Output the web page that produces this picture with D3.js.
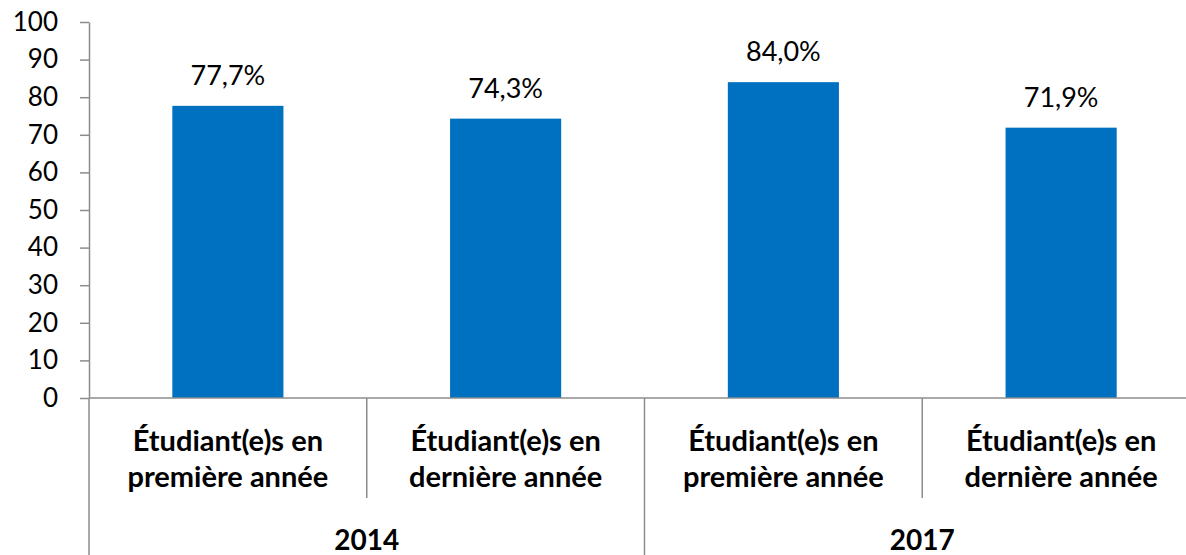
<!DOCTYPE html>
<html>
<head>
<meta charset="utf-8">
<script src="https://cdn.jsdelivr.net/npm/d3@7"></script>
<style>
  body { margin: 0; background: #fff; }
  svg { display: block; font-family: Lato, "Open Sans", sans-serif; }
</style>
</head>
<body>
<div id="chart"></div>
<script>
'use strict';

// data
var years = ["2014", "2017"];
var categories = ["Étudiant(e)s en première année", "Étudiant(e)s en dernière année"];
var categoryLines = [["Étudiant(e)s en", "première année"], ["Étudiant(e)s en", "dernière année"]];
var values = [77.7, 74.3, 84.0, 71.9];
var yTicks = [0, 10, 20, 30, 40, 50, 60, 70, 80, 90, 100];

var W = 1186, H = 555;
var plotLeft = 89, plotRight = 1200, plotTop = 22, plotBottom = 398;

var rows = [];
years.forEach(function(y, gi) {
    categories.forEach(function(c, ci) {
        rows.push({year: y, cat: ci, key: y + "|" + ci, value: values[gi * categories.length + ci]});
    });
});

var fr = d3.formatLocale({decimal: ",", thousands: " ", grouping: [3], currency: ["", " €"]});
var fmt = function(d) { return fr.format(".1f")(d) + "%"; };

var svg = d3.select("#chart").append("svg")
    .attr("width", W)
    .attr("height", H);

var x = d3.scaleBand()
    .domain(rows.map(function(d) { return d.key; }))
    .range([plotLeft, plotRight])
    .padding(0);

var y = d3.scaleLinear()
    .domain([0, 100])
    .range([plotBottom, plotTop]);

// bars
var barW = x.bandwidth() * 0.4;
svg.append("g").selectAll("rect")
    .data(rows)
    .enter().append("rect")
    .attr("x", function(d) { return x(d.key) + (x.bandwidth() - barW) / 2; })
    .attr("y", function(d) { return y(d.value); })
    .attr("width", barW)
    .attr("height", function(d) { return y(0) - y(d.value); })
    .attr("fill", "#0070C0");

// value labels
svg.append("g").selectAll("text")
    .data(rows)
    .enter().append("text")
    .attr("x", function(d) { return x(d.key) + x.bandwidth() / 2; })
    .attr("y", function(d) { return y(d.value) - 21; })
    .attr("text-anchor", "middle")
    .attr("font-size", 27)
    .attr("fill", "#000")
    .text(function(d) { return fmt(d.value); });

// y axis
var yAxis = svg.append("g")
    .attr("transform", "translate(" + plotLeft + ",0)")
    .call(d3.axisLeft(y).tickValues(yTicks).tickSize(9).tickSizeOuter(0).tickPadding(22));
yAxis.select(".domain").attr("stroke", "#8c8c8c").attr("stroke-width", 1.5);
yAxis.selectAll(".tick line").attr("stroke", "#8c8c8c").attr("stroke-width", 1.5);
yAxis.selectAll(".tick text")
    .attr("font-size", 26)
    .attr("font-family", "Lato, 'Open Sans', sans-serif")
    .attr("fill", "#000");

// x axis baseline
svg.append("line")
    .attr("x1", plotLeft).attr("x2", plotRight)
    .attr("y1", y(0)).attr("y2", y(0))
    .attr("stroke", "#8c8c8c")
    .attr("stroke-width", 1.5);

// separators between categories (short) and between years (long)
var seps = [];
rows.forEach(function(d) {
    seps.push({x: x(d.key), long: d.cat === 0});
});
seps.push({x: plotRight, long: true});
svg.append("g").selectAll("line")
    .data(seps)
    .enter().append("line")
    .attr("x1", function(d) { return d.x; })
    .attr("x2", function(d) { return d.x; })
    .attr("y1", y(0))
    .attr("y2", function(d) { return d.long ? H : y(0) + 100; })
    .attr("stroke", "#8c8c8c")
    .attr("stroke-width", 1.5);

// category labels
var catText = svg.append("g").selectAll("text")
    .data(rows)
    .enter().append("text")
    .attr("x", function(d) { return x(d.key) + x.bandwidth() / 2; })
    .attr("y", 451)
    .attr("text-anchor", "middle")
    .attr("font-size", 29)
    .attr("font-weight", "bold")
    .attr("fill", "#000");
catText.selectAll("tspan")
    .data(function(d) { return categoryLines[d.cat].map(function(t) { return {t: t, key: d.key}; }); })
    .enter().append("tspan")
    .attr("x", function(d) { return x(d.key) + x.bandwidth() / 2; })
    .attr("dy", function(d, i) { return i === 0 ? 0 : 36; })
    .text(function(d) { return d.t; });

// year labels
svg.append("g").selectAll("text")
    .data(years)
    .enter().append("text")
    .attr("x", function(d) {
        var ks = rows.filter(function(r) { return r.year === d; });
        return (x(ks[0].key) + x(ks[ks.length - 1].key) + x.bandwidth()) / 2;
    })
    .attr("y", 550)
    .attr("text-anchor", "middle")
    .attr("font-size", 28)
    .attr("font-weight", "bold")
    .attr("fill", "#000")
    .text(function(d) { return d; });
</script>
</body>
</html>
